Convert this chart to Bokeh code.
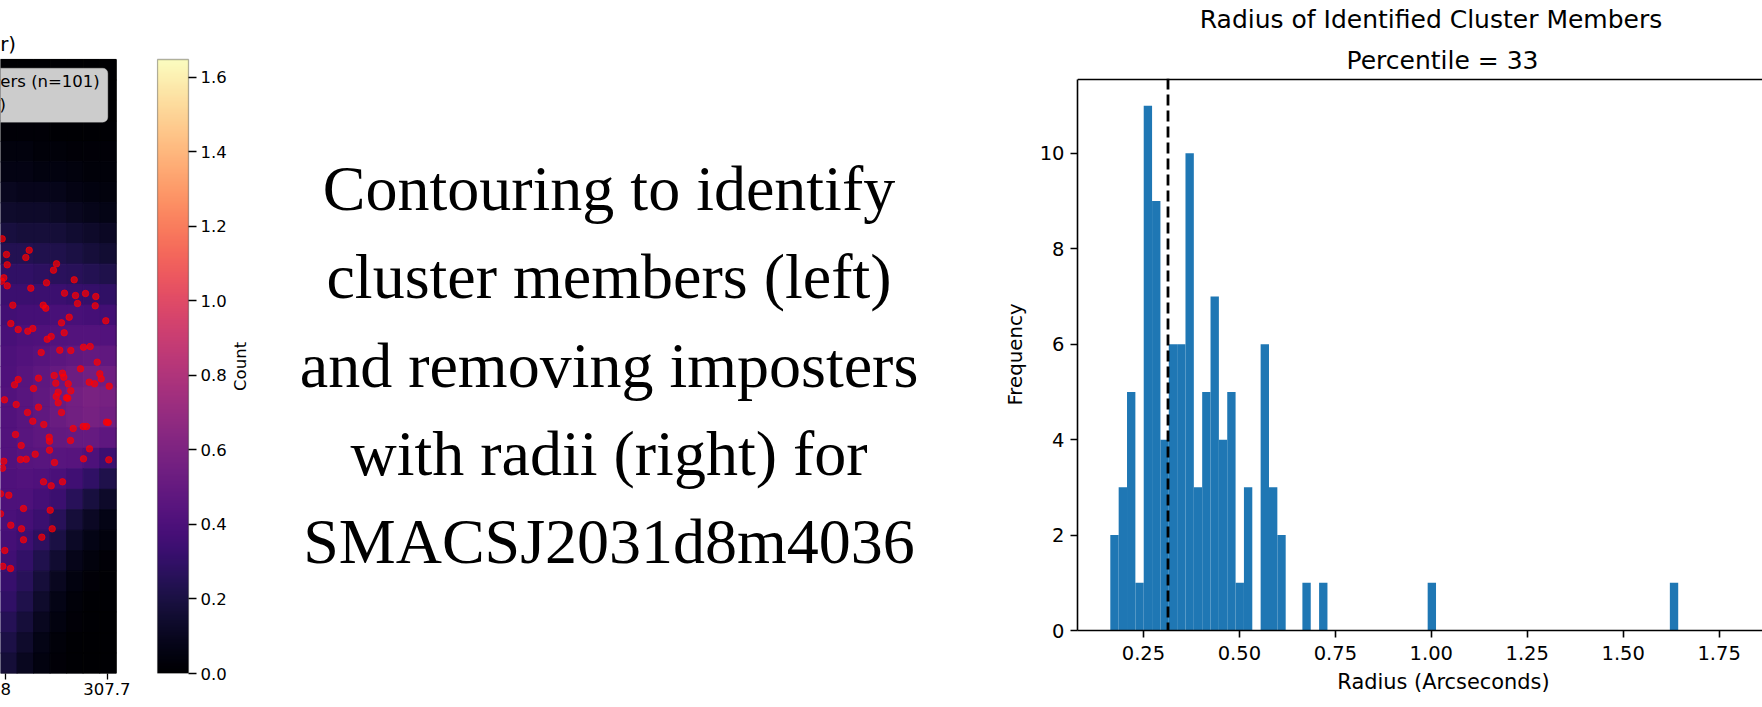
import numpy as np
from math import pi
from bokeh.plotting import figure
from bokeh.layouts import row, column
from bokeh.models import (Range1d, FixedTicker, Span, Label, BoxAnnotation,
                          LinearColorMapper, PrintfTickFormatter, ColumnDataSource)
from bokeh.palettes import Magma256
from bokeh.transform import linear_cmap
from bokeh.core.properties import value
from bokeh.embed import file_html
from bokeh.resources import INLINE

# ------------------------------------------------------------------ data
# Histogram of radii of identified cluster members
bin_start = 0.1637
bin_width = 0.02176
radius_counts = [2, 3, 5, 1, 11, 9, 4, 6, 6, 10, 3, 5, 7, 4, 5, 1, 3, 0, 6, 3, 2, 0, 0, 1, 0, 1,
                 0, 0, 0, 0, 0, 0, 0, 0, 0, 0, 0, 0,
                 1,
                 0, 0, 0, 0, 0, 0, 0, 0, 0, 0, 0, 0, 0, 0, 0, 0, 0, 0, 0, 0, 0, 0, 0, 0, 0, 0, 0, 0,
                 1]
percentile_cut = 0.314
hist_ymax = 11.55
hist_xticks = [0.25, 0.50, 0.75, 1.00, 1.25, 1.50, 1.75]
hist_yticks = [0, 2, 4, 6, 8, 10]

# Visible part of the density map (rows top -> bottom, 7 columns left -> right)
density_rows = [
    [0.00, 0.00, 0.00, 0.00, 0.00, 0.00, 0.00],
    [0.00, 0.00, 0.00, 0.00, 0.00, 0.00, 0.00],
    [0.01, 0.01, 0.01, 0.01, 0.00, 0.00, 0.00],
    [0.02, 0.02, 0.02, 0.01, 0.01, 0.01, 0.01],
    [0.04, 0.04, 0.03, 0.03, 0.02, 0.02, 0.02],
    [0.06, 0.06, 0.05, 0.05, 0.04, 0.03, 0.03],
    [0.10, 0.09, 0.09, 0.08, 0.06, 0.05, 0.04],
    [0.14, 0.13, 0.13, 0.12, 0.10, 0.08, 0.07],
    [0.19, 0.18, 0.18, 0.17, 0.15, 0.13, 0.11],
    [0.24, 0.24, 0.23, 0.22, 0.20, 0.18, 0.16],
    [0.29, 0.29, 0.28, 0.27, 0.26, 0.24, 0.22],
    [0.33, 0.33, 0.33, 0.33, 0.32, 0.31, 0.29],
    [0.36, 0.37, 0.37, 0.38, 0.38, 0.37, 0.36],
    [0.38, 0.40, 0.41, 0.42, 0.43, 0.43, 0.42],
    [0.40, 0.42, 0.44, 0.46, 0.48, 0.49, 0.48],
    [0.41, 0.44, 0.47, 0.50, 0.53, 0.55, 0.54],
    [0.42, 0.45, 0.48, 0.52, 0.56, 0.58, 0.57],
    [0.42, 0.45, 0.48, 0.52, 0.55, 0.57, 0.55],
    [0.42, 0.45, 0.47, 0.49, 0.50, 0.50, 0.47],
    [0.42, 0.44, 0.45, 0.45, 0.44, 0.40, 0.34],
    [0.41, 0.42, 0.41, 0.39, 0.35, 0.29, 0.22],
    [0.40, 0.40, 0.37, 0.33, 0.26, 0.19, 0.13],
    [0.39, 0.37, 0.33, 0.26, 0.18, 0.11, 0.07],
    [0.37, 0.34, 0.28, 0.20, 0.12, 0.07, 0.04],
    [0.35, 0.30, 0.23, 0.15, 0.08, 0.04, 0.02],
    [0.32, 0.26, 0.18, 0.10, 0.05, 0.02, 0.01],
    [0.29, 0.22, 0.14, 0.07, 0.03, 0.01, 0.01],
    [0.25, 0.18, 0.10, 0.05, 0.02, 0.01, 0.00],
    [0.21, 0.14, 0.07, 0.03, 0.01, 0.00, 0.00],
    [0.17, 0.10, 0.05, 0.02, 0.01, 0.00, 0.00],
]
density_max = 1.648
map_x_edges = [0, 16.53, 33.06, 49.59, 66.11, 82.64, 99.17, 115.7]
map_y_top, map_y_bottom = 59.0, 673.0
map_xticks = [4.7, 107.3]
map_xtick_labels = {4.7: "8", 107.3: "307.7"}

# member positions (map units, y counted downward)
member_x = [1.7, 28.7, 25.3, 6, 6.7, 56, 53, 3.3, 1, 6.7, 30.3, 46, 73.7, 64, 75, 85, 95.3, 77, 94.7,
            12.3, 42.7, 45.3, 68.7, 61, 105.3, 10.3, 17.7, 32.3, 27.3, 63.7, 50.7, 46.7, 40.7, 59.3,
            70.3, 83, 89.7, 96.7, 80, 17.7, 14, 38, 53.7, 62, 63.3, 55.3, 67.7, 33, 88.7, 94, 99.3,
            100.7, 108.7, 57.7, 70.3, 55.7, 66, 67.3, 4, 57.7, 15.7, 38, 27, 61, 32.3, 43.3, 106,
            107.7, 72.7, 82.7, 86, 15, 48.7, 49, 70, 20.7, 89, 49, 34.7, 20, 25.7, 83, 108.3, 54,
            3.3, 2, 43, 50.7, 62, 0, 8.3, 23, 49.7, 0, 10.3, 21, 51.7, 41.3, 23, 4.3, 2.3, 10]
member_y = [238.3, 249.7, 257, 254, 264.3, 263.3, 269.7, 277.3, 280.7, 285.3, 287.7, 282.3, 279.3,
            292.7, 295, 293, 296, 303, 305.3, 304.7, 304.7, 307.7, 316.7, 322.3, 320.3, 323, 329,
            328, 330.7, 332.3, 336, 338.7, 352, 349.7, 350, 346.7, 346, 361.7, 368.3, 379, 384.3,
            377.7, 375, 372.7, 376.7, 382.7, 383.3, 388, 381.7, 383.3, 373.3, 378.3, 385.7, 391.7,
            390.3, 396, 397.3, 397.7, 399.3, 402.3, 404, 406.7, 412, 412, 420.7, 424, 421.7, 422,
            428, 426, 426, 434, 436.7, 440.7, 440, 445, 448.3, 449.7, 453.7, 459, 458.7, 458.3,
            459.3, 462, 460.7, 467.7, 481.3, 485.3, 481.3, 493.3, 494.7, 508, 509.7, 513.3, 524.7,
            528.3, 528.3, 536.7, 539.3, 550, 565.8, 568]

cbar_ticks = [0.0, 0.2, 0.4, 0.6, 0.8, 1.0, 1.2, 1.4, 1.6]

text_lines = ["Contouring to identify", "cluster members (left)", "and removing imposters",
              "with radii (right) for", "SMACSJ2031d8m4036"]

SANS = "DejaVu Sans"
H = 707


def base_fig(**kw):
    f = figure(toolbar_location=None, output_backend="svg", **kw)
    f.xgrid.grid_line_color = None
    f.ygrid.grid_line_color = None
    f.background_fill_color = "white"
    f.border_fill_color = "white"
    try:
        f.frame_align = False
    except AttributeError:
        pass
    return f


def blank_fig(width, height, xr, yr):
    f = base_fig(width=width, height=height, x_range=Range1d(*xr), y_range=Range1d(*yr),
                 min_border=0, x_axis_location=None, y_axis_location=None)
    f.outline_line_color = None
    return f


def style_axis(a, size, tick_out, lw):
    a.major_label_text_font = SANS
    a.major_label_text_font_size = size
    a.major_label_text_color = "black"
    a.major_tick_out = tick_out
    a.major_tick_in = 0
    a.major_tick_line_width = lw
    a.minor_tick_line_color = None
    a.axis_line_width = lw


# ------------------------------------------------------------------ density map (cropped)
hp = base_fig(width=130, height=H, x_range=Range1d(0, 117), y_range=Range1d(map_y_bottom, 0),
              min_border_left=0, min_border_right=13, min_border_top=0, min_border_bottom=34,
              y_axis_location=None)
L, R, T, B, V = [], [], [], [], []
y_edges = np.linspace(map_y_top, map_y_bottom, len(density_rows) + 1)
for i, rv in enumerate(density_rows):
    for j, v in enumerate(rv):
        L.append(map_x_edges[j]); R.append(map_x_edges[j + 1])
        T.append(y_edges[i]); B.append(y_edges[i + 1]); V.append(v)
cmap = linear_cmap("v", Magma256, 0, density_max)
hp.quad(left="l", right="r", top="t", bottom="b",
        source=ColumnDataSource(dict(l=L, r=R, t=T, b=B, v=V)),
        fill_color=cmap, line_color=cmap, line_width=1)
hp.scatter(x=member_x, y=member_y, size=6.5, fill_color="red", fill_alpha=0.7,
           line_color="red", line_alpha=0.7)
hp.outline_line_color = None
hp.add_layout(BoxAnnotation(left=-5, right=map_x_edges[-1], top=map_y_top, bottom=map_y_bottom,
                            fill_alpha=0, line_color="black", line_width=1.3))
ax = hp.xaxis[0]
style_axis(ax, "16.5px", 6, 1.3)
ax.ticker = FixedTicker(ticks=map_xticks)
ax.major_label_overrides = map_xtick_labels
ax.major_label_standoff = 3
ax.axis_line_color = None

hp.add_layout(BoxAnnotation(left=-20, right=107.3, top=67.7, bottom=121.7, fill_color="#cccccc",
                            fill_alpha=1, line_color="#d4d4d4", line_width=1, border_radius=5))
hp.add_layout(Label(x=99.3, y=81, text="ers (n=101)", text_align="right",
                    text_baseline="alphabetic", text_font=SANS, text_font_size="16.5px",
                    text_color="black"))
hp.add_layout(Label(x=5.5, y=104, text=")", text_align="right", text_baseline="alphabetic",
                    text_font=SANS, text_font_size="16.5px", text_color="black"))
hp.text(x=[15.5], y=[44], text=["r)"], text_font=value(SANS), text_font_size="19.8px",
        text_align="right", text_baseline="alphabetic", text_color="black")

# ------------------------------------------------------------------ colour bar
cb_scale = (map_y_bottom - map_y_top) / density_max          # px per unit
cb = base_fig(width=100, height=H, x_range=Range1d(-1, 33),
              y_range=Range1d(0, map_y_bottom / cb_scale),
              min_border_left=26, min_border_right=40, min_border_top=0, min_border_bottom=34,
              x_axis_location=None, y_axis_location="right")
grad = np.linspace(0, density_max, 512).reshape(512, 1)
cb.image(image=[grad], x=0, y=0, dw=31, dh=density_max,
         color_mapper=LinearColorMapper(palette=Magma256, low=0, high=density_max))
cb.outline_line_color = None
cb.add_layout(BoxAnnotation(left=0, right=31, bottom=0, top=density_max, fill_alpha=0,
                            line_color="black", line_width=1.3))
cax = cb.yaxis[0]
style_axis(cax, "16.5px", 6, 1.3)
cax.major_tick_in = 2
cax.ticker = FixedTicker(ticks=cbar_ticks)
cax.formatter = PrintfTickFormatter(format="%.1f")
cax.axis_line_color = None
cax.major_label_standoff = 4

# ------------------------------------------------------------------ text panel (page x 230..1000)
tf = blank_fig(770, H, (230, 1000), (H, 0))
tf.text(x=[608.5] * 5, y=[188, 276.3, 364.6, 452.9, 541.2], text=text_lines,
        text_font=value("Liberation Serif"), text_font_size="64px", text_align="center",
        text_baseline="alphabetic", text_color="black")
tf.text(x=[240], y=[365.9], text=["Count"], angle=pi / 2, text_font=value(SANS),
        text_font_size="16.5px", text_align="center", text_baseline="middle", text_color="black")

# ------------------------------------------------------------------ histogram
ht = blank_fig(762, 78, (1000, 1762), (78, 0))
ht.text(x=[1430.5, 1442], y=[18.6, 60], text=["Radius of Identified Cluster Members", "Percentile = 33"],
        text_font=value(SANS), text_font_size="25px", text_align="center",
        text_baseline="alphabetic", text_color="black")

frame_bottom_local = 630 - 78
hist_scale = (630.2 - 79.1) / hist_ymax
hf = base_fig(width=762, height=588, x_range=Range1d(0.0782, 1.863),
              y_range=Range1d(0, frame_bottom_local / hist_scale),
              min_border_left=73, min_border_right=0, min_border_top=0, min_border_bottom=36)
edges = bin_start + bin_width * np.arange(len(radius_counts) + 1)
hf.quad(left=edges[:-1], right=edges[1:], bottom=0, top=radius_counts,
        fill_color="#1f77b4", line_color=None)
hf.add_layout(Span(location=percentile_cut, dimension="height", line_color="black",
                   line_width=2.8, line_dash="11 5"))
hf.add_layout(Span(location=hist_ymax, dimension="width", line_color="black", line_width=1.6))
hf.outline_line_color = None
for a in (hf.xaxis[0], hf.yaxis[0]):
    style_axis(a, "19.5px", 7, 1.6)
hf.xaxis[0].major_label_standoff = 8
hf.yaxis[0].major_label_standoff = 6
hf.xaxis[0].ticker = FixedTicker(ticks=hist_xticks)
hf.xaxis[0].formatter = PrintfTickFormatter(format="%.2f")
hf.yaxis[0].ticker = FixedTicker(ticks=hist_yticks)
hf.yaxis[0].bounds = (0, hist_ymax)
hf.yaxis[0].axis_label = "Frequency"
hf.yaxis[0].axis_label_text_font = SANS
hf.yaxis[0].axis_label_text_font_size = "19.8px"
hf.yaxis[0].axis_label_text_font_style = "normal"
hf.yaxis[0].axis_label_text_color = "black"
hf.yaxis[0].axis_label_standoff = 10

hb = blank_fig(762, 41, (1000, 1762), (707, 666))
hb.text(x=[1443], y=[681], text=["Radius (Arcseconds)"], text_font=value(SANS),
        text_font_size="20.9px", text_align="center", text_baseline="alphabetic",
        text_color="black")

layout = row(hp, cb, tf, column(ht, hf, hb, spacing=0), spacing=0)
open("out.html", "w").write(file_html(layout, INLINE))
